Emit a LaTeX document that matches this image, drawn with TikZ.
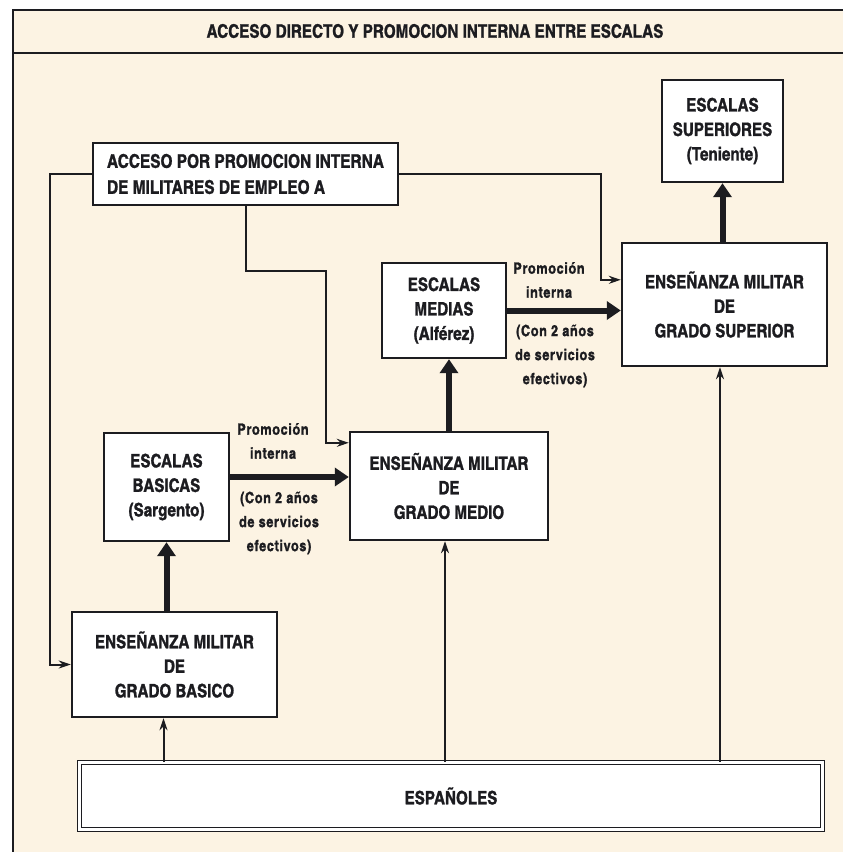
\documentclass[tikz,border=0pt]{standalone}
\usepackage{fontspec}
\usepackage{xcolor}
\usepackage{tikz}
\usetikzlibrary{positioning,arrows.meta}
\setmainfont{texgyreheroscn-bold.otf}[FakeBold=1.2]
\definecolor{paper}{RGB}{252,243,227}
\definecolor{ink}{RGB}{28,28,32}

\begin{document}
\begin{tikzpicture}[x=1pt, y=-1pt, >=Stealth,
  box/.style={draw=ink, line width=2.4pt, fill=white, inner sep=0pt, align=center, text=ink, font=\fontsize{18.5}{24.5}\selectfont},
  note/.style={align=center, text=ink, font=\fontsize{15.5}{24}\selectfont\addfontfeature{LetterSpace=4}},
  big/.style={draw=ink, line width=6pt, -{Triangle[width=18pt,length=14pt]}},
  feed/.style={draw=ink, line width=2pt, -{Stealth[length=12pt,width=8pt]}}]
\useasboundingbox (0,0) rectangle (843,852);
\clip (0,0) rectangle (843,852);
\fill[white] (0,0) rectangle (843,852);
\fill[paper] (13,10) rectangle (900,900);
\draw[ink, line width=2.6pt] (13,900) -- (13,10) -- (900,10);
\draw[ink, line width=2.6pt] (13,53) -- (900,53);
\node[text=ink, font=\fontsize{18.6}{20}\selectfont] (titulo) at (435,31) {ACCESO DIRECTO Y PROMOCION INTERNA ENTRE ESCALAS};

% boxes
\node[box, align=left, font=\fontsize{18.8}{26}\selectfont, minimum width=305pt, minimum height=62pt] (acceso) at (245.5,174) {ACCESO POR PROMOCION INTERNA\\DE MILITARES DE EMPLEO A};
\node[box, minimum width=121pt, minimum height=102pt] (esup) at (722.5,131) {ESCALAS\\SUPERIORES\\(Teniente)};
\node[box, minimum width=205pt, minimum height=123pt] (gsup) at (724.5,304.5) {ENSEÑANZA MILITAR\\DE\\GRADO SUPERIOR};
\node[box, minimum width=124pt, minimum height=95pt] (emed) at (444,310.5) {ESCALAS\\MEDIAS\\(Alférez)};
\node[box, minimum width=198pt, minimum height=108pt] (gmed) at (449,486) {ENSEÑANZA MILITAR\\DE\\GRADO MEDIO};
\node[box, minimum width=125pt, minimum height=108pt] (ebas) at (166.5,487) {ESCALAS\\BASICAS\\(Sargento)};
\node[box, minimum width=205pt, minimum height=105pt] (gbas) at (174.5,664.5) {ENSEÑANZA MILITAR\\DE\\GRADO BASICO};
\node[box, line width=1.3pt, double=white, double distance=2.6pt, minimum width=743pt, minimum height=67pt] (espanoles) at (451,796) {ESPAÑOLES};

% labels
\node[note] (promoB) at (273,441) {Promoción\\interna};
\node[note] (anosB) at (279,523) {(Con 2 años\\de servicios\\efectivos)};
\node[note] (promoM) at (549,280) {Promoción\\interna};
\node[note] (anosM) at (555,356) {(Con 2 años\\de servicios\\efectivos)};

% promocion interna
\draw[big] (gbas.north -| ebas.south) -- (ebas.south);
\draw[big] ([yshift=10pt]ebas.east) -- ([yshift=10pt]ebas.east -| gmed.west);
\draw[big] (gmed.north) -- (gmed.north |- emed.south);
\draw[big] (emed.east) -- (emed.east -| gsup.west);
\draw[big] (gsup.north -| esup.south) -- (esup.south);

% acceso directo
\draw[feed] ([xshift=-11pt]gbas.south |- espanoles.north) -- ([xshift=-11pt]gbas.south);
\draw[feed] ([xshift=-4pt]gmed.south |- espanoles.north) -- ([xshift=-4pt]gmed.south);
\draw[feed] ([xshift=-4.5pt]gsup.south |- espanoles.north) -- ([xshift=-4.5pt]gsup.south);

% militares de empleo
\draw[feed] (acceso.west) -- ++(-42,0) |- (gbas.west);
\draw[feed] (acceso.south) -- ++(0,65) -- ++(80,0) |- ([yshift=-12pt]gmed.north west);
\draw[feed] (acceso.east) -- ++(202,0) |- ([yshift=-38pt]gsup.north west);
\end{tikzpicture}
\end{document}
